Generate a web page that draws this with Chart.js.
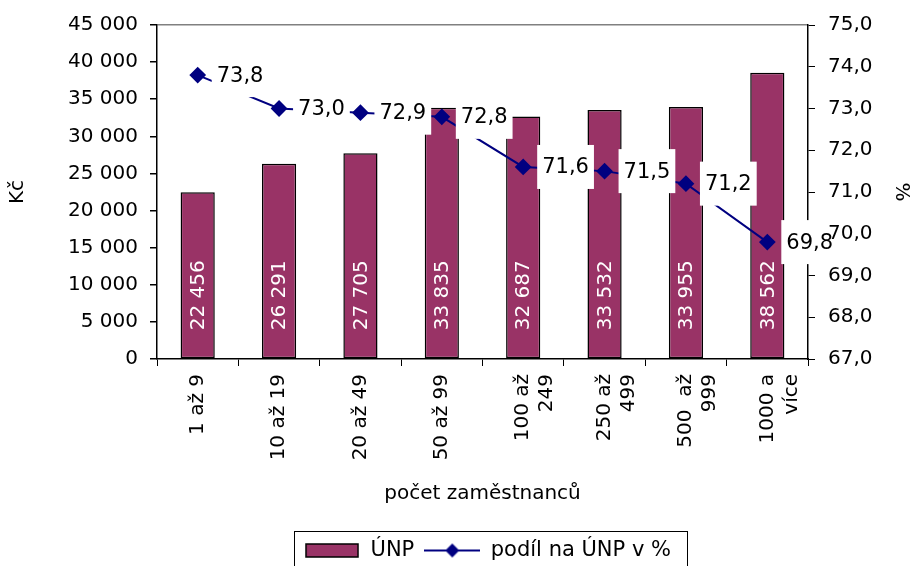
<!DOCTYPE html>
<html>
<head>
<meta charset="utf-8">
<script src="https://cdn.jsdelivr.net/npm/chart.js@4.4.1/dist/chart.umd.min.js"></script>
<style>
  html, body { margin: 0; padding: 0; background: #fff; }
  #wrap { width: 913px; height: 566px; }
</style>
</head>
<body>
<div id="wrap"><canvas id="chart" width="913" height="566"></canvas></div>
<script>
// categories (number of employees)
const categories = [
    ['1 až 9'],
    ['10 až 19'],
    ['20 až 49'],
    ['50 až 99'],
    ['100 až', '249'],
    ['250 až', '499'],
    ['500  až', '999'],
    ['1000 a', 'více']
];
// average wage in Kč
const unpValues = [22456, 26291, 27705, 33835, 32687, 33532, 33955, 38562];
// share on ÚNP in %
const podilValues = [73.8, 73.0, 72.9, 72.8, 71.6, 71.5, 71.2, 69.8];

const barColor = '#993366';
const lineColor = '#000080';
const fontFamily = '"DejaVu Sans", Verdana, sans-serif';

Chart.defaults.font.family = fontFamily;
Chart.defaults.color = '#000';

function thousands(v) {
    return String(v).replace(/\B(?=(\d{3})+(?!\d))/g, ' ');
}
function comma(v) {
    return v.toFixed(1).replace('.', ',');
}

// legend swatches
function barSwatch() {
    const c = document.createElement('canvas');
    c.width = 54; c.height = 15;
    const g = c.getContext('2d');
    g.fillStyle = barColor;
    g.fillRect(1, 1, 52, 13);
    g.strokeStyle = '#000';
    g.lineWidth = 1.5;
    g.strokeRect(1, 1, 52, 13);
    return c;
}
function lineSwatch() {
    const c = document.createElement('canvas');
    c.width = 56; c.height = 16;
    const g = c.getContext('2d');
    g.strokeStyle = lineColor;
    g.lineWidth = 2;
    g.beginPath(); g.moveTo(0, 8); g.lineTo(56, 8); g.stroke();
    g.fillStyle = lineColor;
    g.beginPath(); g.moveTo(28, 1); g.lineTo(35, 8); g.lineTo(28, 15); g.lineTo(21, 8); g.closePath(); g.fill();
    return c;
}

const labelsPlugin = {
    id: 'valueLabels',
    afterLayout(chart) {
        // legend sits under the plot area, a bit lower
        const lg = chart.legend;
        const shift = (chart.chartArea.left + chart.chartArea.right) / 2 + 5 - (lg.left + lg.right) / 2;
        lg.left += shift;
        lg.right += shift;
        lg.top += 5;
        lg.bottom += 5;
    },
    afterDatasetsDraw(chart) {
        const ctx = chart.ctx;
        // bar values, white, rotated, inside base
        const barMeta = chart.getDatasetMeta(0);
        ctx.save();
        ctx.font = '20px ' + fontFamily;
        ctx.fillStyle = '#fff';
        ctx.textAlign = 'left';
        ctx.textBaseline = 'middle';
        barMeta.data.forEach((bar, i) => {
            ctx.save();
            ctx.translate(bar.x, bar.base - 28);
            ctx.rotate(-Math.PI / 2);
            ctx.fillText(thousands(unpValues[i]), 0, 1);
            ctx.restore();
        });
        ctx.restore();

        // line values in white boxes
        const lineMeta = chart.getDatasetMeta(1);
        const y1 = chart.scales.y1;
        ctx.save();
        ctx.font = '21px ' + fontFamily;
        ctx.textBaseline = 'middle';
        ctx.textAlign = 'left';
        lineMeta.data.forEach((pt, i) => {
            const txt = comma(podilValues[i]);
            const w = ctx.measureText(txt).width + 10;
            const bx = pt.x + 14;
            const by = pt.y - 22;
            ctx.fillStyle = '#fff';
            ctx.fillRect(bx, by, w, 44);
            // right axis labels stay visible over the box
            ctx.save();
            ctx.beginPath();
            ctx.rect(bx, by, w, 44);
            ctx.clip();
            y1.drawLabels(chart.chartArea);
            ctx.restore();
            ctx.fillStyle = '#000';
            ctx.fillText(txt, bx + 5, pt.y + 1);
        });
        ctx.restore();
    },
    afterDraw(chart) {
        const hb = chart.legend.legendHitBoxes;
        if (!hb || !hb.length) return;
        const last = hb[hb.length - 1];
        const ctx = chart.ctx;
        const left = hb[0].left - 10;
        const right = last.left + last.width + 16;
        const top = hb[0].top - 9;
        ctx.save();
        ctx.strokeStyle = '#000';
        ctx.lineWidth = 1;
        ctx.strokeRect(Math.round(left) + 0.5, Math.round(top) + 0.5, Math.round(right - left), chart.height);
        ctx.restore();
    }
};

const chart = new Chart(document.getElementById('chart'), {
    data: {
        labels: categories,
        datasets: [
            {
                type: 'bar',
                label: 'ÚNP',
                data: unpValues,
                yAxisID: 'y',
                backgroundColor: barColor,
                borderColor: '#000',
                borderWidth: 1.5,
                borderSkipped: false,
                categoryPercentage: 1,
                barPercentage: 0.42,
                order: 2
            },
            {
                type: 'line',
                label: 'podíl na ÚNP v %',
                data: podilValues,
                yAxisID: 'y1',
                borderColor: lineColor,
                borderWidth: 2,
                backgroundColor: lineColor,
                pointStyle: 'rectRot',
                pointRadius: 7,
                pointBackgroundColor: lineColor,
                pointBorderColor: lineColor,
                tension: 0,
                order: 1
            }
        ]
    },
    options: {
        responsive: false,
        animation: false,
        devicePixelRatio: 1,
        layout: { padding: { top: 24, right: 0, left: 0, bottom: 0 } },
        plugins: {
            tooltip: { enabled: false },
            legend: {
                position: 'bottom',
                labels: {
                    usePointStyle: true,
                    pointStyleWidth: 56,
                    padding: 10,
                    font: { size: 21 },
                    color: '#000',
                    generateLabels: () => [
                        { text: 'ÚNP', pointStyle: barSwatch(), datasetIndex: 0, lineWidth: 0, fontColor: '#000' },
                        { text: 'podíl na ÚNP v %', pointStyle: lineSwatch(), datasetIndex: 1, lineWidth: 0, fontColor: '#000' }
                    ]
                }
            }
        },
        scales: {
            x: {
                offset: true,
                grid: { offset: true, drawOnChartArea: false, tickLength: 7, color: '#000' },
                border: { color: '#000', width: 1.5 },
                ticks: { minRotation: 90, maxRotation: 90, autoSkip: false, padding: 8, font: { size: 20 }, color: '#000' },
                title: {
                    display: true,
                    text: 'počet zaměstnanců',
                    font: { size: 20 },
                    color: '#000',
                    padding: { top: 4, bottom: 19 }
                },
                afterFit: (s) => { s.height = 166; }
            },
            y: {
                position: 'left',
                min: 0,
                max: 45000,
                ticks: { stepSize: 5000, padding: 12, font: { size: 20 }, color: '#000', callback: (v) => thousands(v) },
                grid: {
                    color: (c) => (c.tick && c.tick.value === 45000 ? '#808080' : 'rgba(0,0,0,0)'),
                    tickColor: '#000',
                    tickLength: 7,
                    lineWidth: 1.5
                },
                border: { color: '#000', width: 1.5 },
                title: { display: true, text: 'Kč', font: { size: 20 }, color: '#000', padding: { top: 6, bottom: 0 } },
                afterFit: (s) => { s.width = 157; }
            },
            y1: {
                position: 'right',
                min: 67,
                max: 75,
                ticks: { stepSize: 1, padding: 13, font: { size: 20 }, color: '#000', callback: (v) => comma(v) },
                grid: { drawOnChartArea: false, tickColor: '#000', tickLength: 7 },
                border: { color: '#000', width: 1.5 },
                title: { display: true, text: '%', font: { size: 20 }, color: '#000', padding: { top: 0, bottom: 0 } },
                afterFit: (s) => { s.width = 105; }
            }
        }
    },
    plugins: [labelsPlugin]
});
</script>
</body>
</html>
